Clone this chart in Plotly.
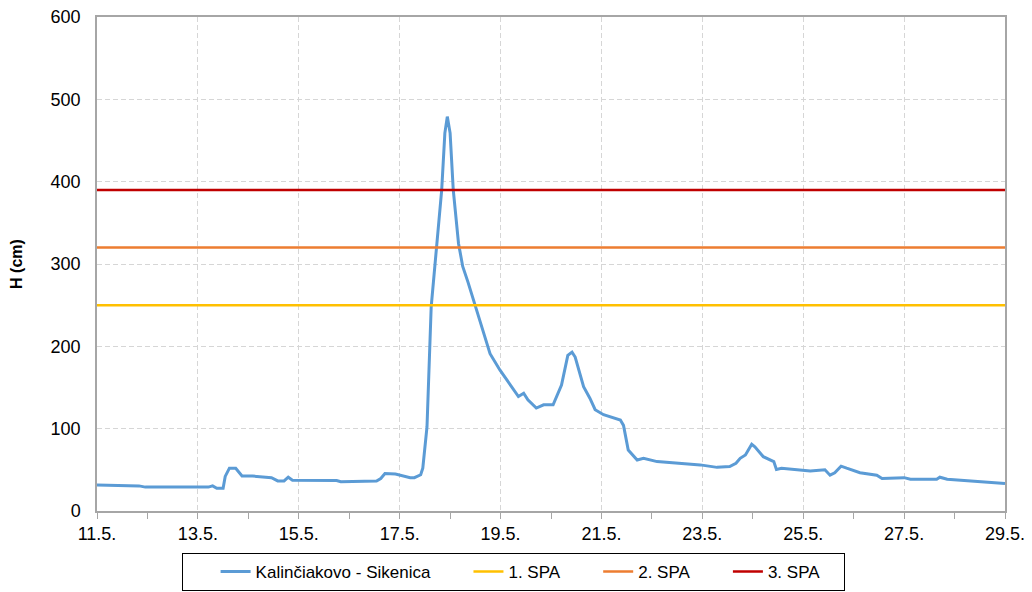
import plotly.graph_objects as go

# Water level series, Kalinčiakovo - Sikenica (H in cm)
times = [
    "2024-05-11 00:00", "2024-05-11 20:00", "2024-05-11 23:00", "2024-05-13 05:00",
    "2024-05-13 07:00", "2024-05-13 09:00", "2024-05-13 12:00", "2024-05-13 13:00",
    "2024-05-13 15:00", "2024-05-13 18:00", "2024-05-13 21:00", "2024-05-14 02:00",
    "2024-05-14 11:00", "2024-05-14 14:00", "2024-05-14 17:00", "2024-05-14 19:00",
    "2024-05-14 21:00", "2024-05-15 18:00", "2024-05-15 20:00", "2024-05-16 13:00",
    "2024-05-16 15:00", "2024-05-16 17:00", "2024-05-16 22:00", "2024-05-17 02:00",
    "2024-05-17 05:00", "2024-05-17 07:00", "2024-05-17 10:00", "2024-05-17 11:00",
    "2024-05-17 13:00", "2024-05-17 15:00", "2024-05-17 17:30", "2024-05-17 20:00",
    "2024-05-17 21:30", "2024-05-17 22:40", "2024-05-18 00:00", "2024-05-18 01:30",
    "2024-05-18 04:00", "2024-05-18 06:00", "2024-05-18 08:30", "2024-05-18 12:00",
    "2024-05-18 14:00", "2024-05-18 19:00", "2024-05-18 23:45", "2024-05-19 04:30",
    "2024-05-19 08:30", "2024-05-19 11:00", "2024-05-19 13:00", "2024-05-19 17:00",
    "2024-05-19 20:30", "2024-05-20 01:00", "2024-05-20 05:00", "2024-05-20 08:00",
    "2024-05-20 10:00", "2024-05-20 11:30", "2024-05-20 15:30", "2024-05-20 18:30",
    "2024-05-20 21:00", "2024-05-21 01:00", "2024-05-21 09:00", "2024-05-21 10:30",
    "2024-05-21 12:45", "2024-05-21 17:00", "2024-05-21 20:00", "2024-05-22 02:30",
    "2024-05-22 23:00", "2024-05-23 07:00", "2024-05-23 13:00", "2024-05-23 16:00",
    "2024-05-23 18:00", "2024-05-23 20:30", "2024-05-23 23:30", "2024-05-24 01:00",
    "2024-05-24 05:00", "2024-05-24 10:00", "2024-05-24 11:15", "2024-05-24 13:40",
    "2024-05-24 19:00", "2024-05-25 03:20", "2024-05-25 10:20", "2024-05-25 12:45",
    "2024-05-25 15:00", "2024-05-25 18:00", "2024-05-25 20:40", "2024-05-26 03:00",
    "2024-05-26 11:00", "2024-05-26 13:30", "2024-05-27 00:00", "2024-05-27 03:00",
    "2024-05-27 15:30", "2024-05-27 17:00", "2024-05-27 20:30", "2024-05-28 09:00",
    "2024-05-28 12:00", "2024-05-29 00:00",
]
levels = [
    31.5, 30.5, 29, 29,
    30.5, 27.5, 27.5, 42,
    52, 52, 42.5, 42.5,
    40.5, 36.5, 36.5, 41,
    37.5, 37, 35.5, 36.5,
    39.5, 45.5, 45, 42,
    40.5, 40.5, 44, 52,
    102, 248, 321, 390,
    459, 479, 459, 390,
    325, 297, 278, 248,
    232, 191, 171, 153,
    139, 143, 135, 125,
    129, 129, 153, 189,
    193, 187, 151, 137,
    123, 117, 110.5, 104,
    74, 62, 64, 60,
    56, 53, 54, 58,
    64, 68, 81, 78,
    66, 60, 50.5, 52,
    50.5, 48.5, 50, 43.5,
    46.5, 54.5, 52, 46.5,
    43.5, 39.5, 40.5, 38.5,
    38.5, 41, 38.5, 36.5,
    35.5, 33.5,
]

series_name = "Kalinčiakovo - Sikenica"
spa_names = ["1. SPA", "2. SPA", "3. SPA"]
spa_values = [250, 320, 390]
spa_colors = ["#FFC000", "#ED7D31", "#C00000"]

x_start = "2024-05-11 00:00"
x_end = "2024-05-29 00:00"

NB = "\u00a0"
pads = [NB * 7, NB * 7, NB * 7, NB * 4]

fig = go.Figure()
fig.add_trace(go.Scatter(
    x=times, y=levels, mode="lines", name=series_name + pads[0],
    line=dict(color="#5B9BD5", width=3),
))
for name, val, col, pad in zip(spa_names, spa_values, spa_colors, pads[1:]):
    fig.add_trace(go.Scatter(
        x=[x_start, x_end], y=[val, val], mode="lines", name=name + pad,
        line=dict(color=col, width=2.5),
    ))

font_family = "Liberation Sans, Arial, sans-serif"

# The page body has an 8px margin, so the figure is sized to fit the window.
fig.update_layout(
    width=1024, height=584,
    margin=dict(l=89, r=27, t=9, b=81),
    paper_bgcolor="white", plot_bgcolor="white",
    font=dict(family=font_family, size=18, color="#000000"),
    showlegend=True,
    legend=dict(
        orientation="h",
        xref="container", yref="container",
        x=0.494, y=0.067, xanchor="center", yanchor="top",
        bordercolor="#000000", borderwidth=1,
        font=dict(family=font_family, size=17, color="#000000"),
        itemwidth=30,
        tracegroupgap=0,
        title=dict(text=NB * 8, side="left", font=dict(size=10)),
    ),
    xaxis=dict(
        type="date",
        range=[x_start, x_end],
        tick0=x_start, dtick=2 * 86400000,
        tickformat="%-d.%-m.",
        showgrid=True, gridcolor="#D6D6D6", griddash="5px,3px", gridwidth=1,
        showline=True, linecolor="#A6A6A6", linewidth=1.5, mirror=True,
        ticks="outside", ticklen=6, tickcolor="#A6A6A6",
        minor=dict(dtick=86400000, ticks="outside", ticklen=6,
                   tickcolor="#A6A6A6", showgrid=False),
        tickfont=dict(size=18),
        zeroline=False, automargin=False, ticklabeloverflow="allow",
    ),
    yaxis=dict(
        range=[0, 600], dtick=100,
        showgrid=True, gridcolor="#D6D6D6", griddash="5px,3px", gridwidth=1,
        showline=True, linecolor="#A6A6A6", linewidth=1.5, mirror=True,
        ticks="", ticklabelstandoff=11,
        tickfont=dict(size=18),
        zeroline=False, automargin=False, ticklabeloverflow="allow",
        title=dict(text="<b>H (cm)</b>", font=dict(size=16), standoff=25),
    ),
)

fig.write_html("out.html")
